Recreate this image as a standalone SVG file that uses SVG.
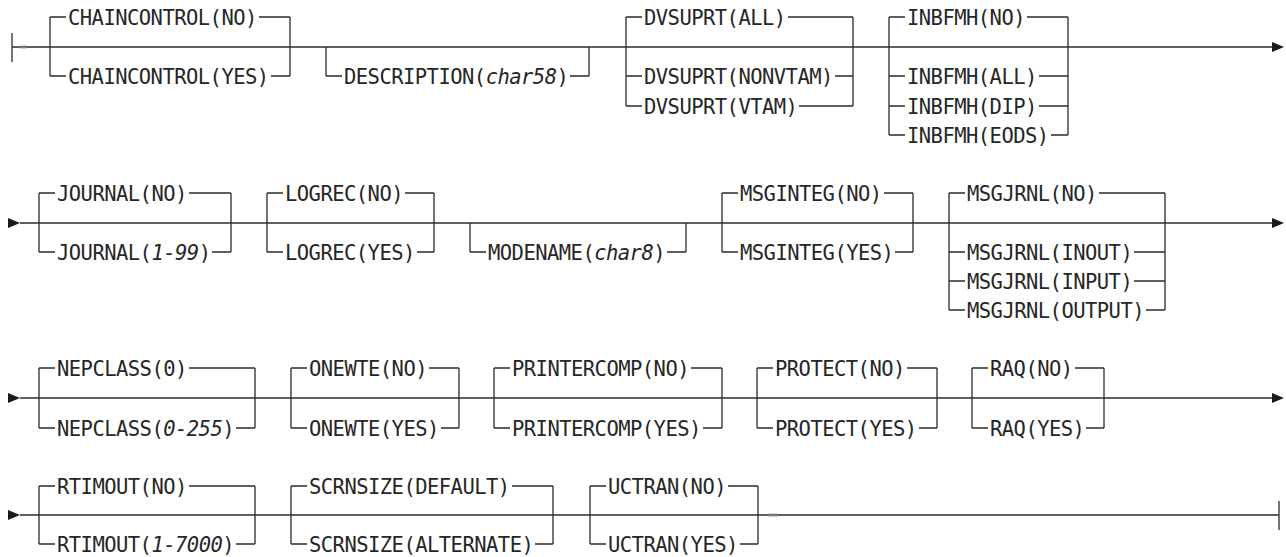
<svg xmlns="http://www.w3.org/2000/svg" width="1286" height="557" viewBox="0 0 1286 557">
<style>
.ln{stroke:#2b2b2b;stroke-width:1.3;fill:none}
.ah{fill:#1a1a1a}
.tk{stroke:#777;stroke-width:2.6}
text{font-family:"DejaVu Sans Mono","Liberation Mono",monospace;font-size:20.5px;letter-spacing:-0.54px;fill:#262626}
.i{font-style:italic}
</style>
<rect width="1286" height="557" fill="#fff"/>
<g id="connectors">
<path class="ln" d="M12,33V62 M12,47H1273"/>
<line class="tk" x1="20" y1="47" x2="27" y2="47"/>
<polygon class="ah" points="1272,42 1284,47 1272,52"/>
<polygon class="ah" points="8,218 20,223 8,228"/>
<path class="ln" d="M20,223H1273"/>
<polygon class="ah" points="1272,218 1284,223 1272,228"/>
<polygon class="ah" points="8,393 20,398 8,403"/>
<path class="ln" d="M20,398H1273"/>
<polygon class="ah" points="1272,393 1284,398 1272,403"/>
<polygon class="ah" points="8,510 20,515 8,520"/>
<path class="ln" d="M20,515H1279 M1279,501V530"/>
<line class="tk" x1="768" y1="515" x2="778" y2="515"/>
</g>
<g id="chaincontrol">
<path class="ln" d="M50,17V76 M290,17V76 M50,17H66 M259,17H290 M50,76H66 M271,76H290"/>
<text x="68" y="24.5">CHAINCONTROL(NO)</text>
<text x="68" y="83.5">CHAINCONTROL(YES)</text>
</g>
<g id="description">
<path class="ln" d="M326,47V76 M589,47V76 M326,76H342 M570,76H589"/>
<text x="344" y="83.5">DESCRIPTION(<tspan class="i">char58</tspan>)</text>
</g>
<g id="dvsuprt">
<path class="ln" d="M626,17V106 M853,17V106 M626,17H642 M788,17H853 M626,76H642 M835,76H853 M626,106H642 M799,106H853"/>
<text x="644" y="24.5">DVSUPRT(ALL)</text>
<text x="644" y="83.5">DVSUPRT(NONVTAM)</text>
<text x="644" y="113.5">DVSUPRT(VTAM)</text>
</g>
<g id="inbfmh">
<path class="ln" d="M889,17V135 M1068,17V135 M889,17H905 M1027,17H1068 M889,76H905 M1039,76H1068 M889,106H905 M1039,106H1068 M889,135H905 M1051,135H1068"/>
<text x="907" y="24.5">INBFMH(NO)</text>
<text x="907" y="83.5">INBFMH(ALL)</text>
<text x="907" y="113.5">INBFMH(DIP)</text>
<text x="907" y="142.5">INBFMH(EODS)</text>
</g>
<g id="journal">
<path class="ln" d="M39,193V252 M231,193V252 M39,193H55 M189,193H231 M39,252H55 M212,252H231"/>
<text x="57" y="200.5">JOURNAL(NO)</text>
<text x="57" y="259.5">JOURNAL(<tspan class="i">1-99</tspan>)</text>
</g>
<g id="logrec">
<path class="ln" d="M267,193V252 M434,193V252 M267,193H283 M405,193H434 M267,252H283 M417,252H434"/>
<text x="285" y="200.5">LOGREC(NO)</text>
<text x="285" y="259.5">LOGREC(YES)</text>
</g>
<g id="modename">
<path class="ln" d="M470,223V252 M686,223V252 M470,252H486 M667,252H686"/>
<text x="488" y="259.5">MODENAME(<tspan class="i">char8</tspan>)</text>
</g>
<g id="msginteg">
<path class="ln" d="M722,193V252 M913,193V252 M722,193H738 M884,193H913 M722,252H738 M895,252H913"/>
<text x="740" y="200.5">MSGINTEG(NO)</text>
<text x="740" y="259.5">MSGINTEG(YES)</text>
</g>
<g id="msgjrnl">
<path class="ln" d="M949,193V310 M1165,193V310 M949,193H965 M1099,193H1165 M949,252H965 M1134,252H1165 M949,281H965 M1134,281H1165 M949,310H965 M1146,310H1165"/>
<text x="967" y="200.5">MSGJRNL(NO)</text>
<text x="967" y="259.5">MSGJRNL(INOUT)</text>
<text x="967" y="288.5">MSGJRNL(INPUT)</text>
<text x="967" y="317.5">MSGJRNL(OUTPUT)</text>
</g>
<g id="nepclass">
<path class="ln" d="M39,368V428 M255,368V428 M39,368H55 M189,368H255 M39,428H55 M236,428H255"/>
<text x="57" y="375.5">NEPCLASS(0)</text>
<text x="57" y="435.5">NEPCLASS(<tspan class="i">0-255</tspan>)</text>
</g>
<g id="onewte">
<path class="ln" d="M291,368V428 M459,368V428 M291,368H307 M429,368H459 M291,428H307 M441,428H459"/>
<text x="309" y="375.5">ONEWTE(NO)</text>
<text x="309" y="435.5">ONEWTE(YES)</text>
</g>
<g id="printercomp">
<path class="ln" d="M494,368V428 M722,368V428 M494,368H510 M691,368H722 M494,428H510 M703,428H722"/>
<text x="512" y="375.5">PRINTERCOMP(NO)</text>
<text x="512" y="435.5">PRINTERCOMP(YES)</text>
</g>
<g id="protect">
<path class="ln" d="M757,368V428 M937,368V428 M757,368H773 M907,368H937 M757,428H773 M919,428H937"/>
<text x="775" y="375.5">PROTECT(NO)</text>
<text x="775" y="435.5">PROTECT(YES)</text>
</g>
<g id="raq">
<path class="ln" d="M972,368V428 M1104,368V428 M972,368H988 M1075,368H1104 M972,428H988 M1086,428H1104"/>
<text x="990" y="375.5">RAQ(NO)</text>
<text x="990" y="435.5">RAQ(YES)</text>
</g>
<g id="rtimout">
<path class="ln" d="M39,486V544 M255,486V544 M39,486H55 M189,486H255 M39,544H55 M236,544H255"/>
<text x="57" y="493.5">RTIMOUT(NO)</text>
<text x="57" y="551.5">RTIMOUT(<tspan class="i">1-7000</tspan>)</text>
</g>
<g id="scrnsize">
<path class="ln" d="M291,486V544 M553,486V544 M291,486H307 M512,486H553 M291,544H307 M535,544H553"/>
<text x="309" y="493.5">SCRNSIZE(DEFAULT)</text>
<text x="309" y="551.5">SCRNSIZE(ALTERNATE)</text>
</g>
<g id="uctran">
<path class="ln" d="M590,486V544 M758,486V544 M590,486H606 M728,486H758 M590,544H606 M740,544H758"/>
<text x="608" y="493.5">UCTRAN(NO)</text>
<text x="608" y="551.5">UCTRAN(YES)</text>
</g>
</svg>
